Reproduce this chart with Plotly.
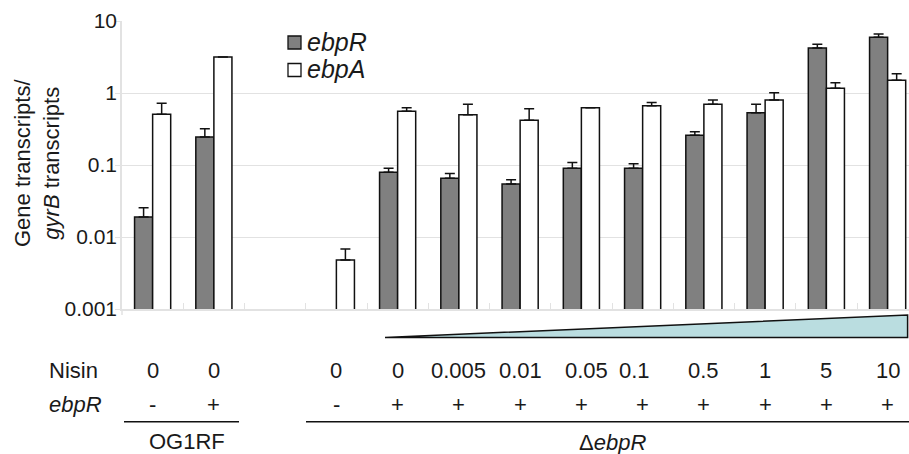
import plotly.graph_objects as go

# ---- data ----
strain = ["OG1RF", "OG1RF", "", "ΔebpR", "ΔebpR", "ΔebpR", "ΔebpR", "ΔebpR",
          "ΔebpR", "ΔebpR", "ΔebpR", "ΔebpR", "ΔebpR"]
nisin = ["0", "0", "", "0", "0", "0.005", "0.01", "0.05", "0.1", "0.5", "1", "5", "10"]
ebpr_status = ["-", "+", "", "-", "+", "+", "+", "+", "+", "+", "+", "+", "+"]

ebpR_vals = [0.019, 0.245, None, None, 0.079, 0.0653, 0.0544, 0.090, 0.090, 0.258, 0.533, 4.22, 5.93]
ebpR_err = [0.0065, 0.075, None, None, 0.011, 0.011, 0.008, 0.018, 0.014, 0.032, 0.164, 0.53, 0.66]
ebpA_vals = [0.506, 3.16, None, 0.0048, 0.557, 0.50, 0.418, 0.625, 0.667, 0.697, 0.80, 1.16, 1.50]
ebpA_err = [0.214, 0.0, None, 0.002, 0.068, 0.20, 0.187, 0.0, 0.073, 0.103, 0.21, 0.23, 0.35]

series_names = ["ebpR", "ebpA"]
series_colors = ["#808080", "#ffffff"]

y_tickvals = [0.001, 0.01, 0.1, 1, 10]
y_ticktext = ["0.001", "0.01", "0.1", "1", "10"]

# ---- styling ----
FONT = "Liberation Sans, Arial, sans-serif"
TXT = "#1a1a1a"
EDGE = "#111111"
GRID = "#e2e2e2"
x_pos = list(range(len(nisin)))

fig = go.Figure()
for name, color, vals, err in zip(series_names, series_colors,
                                  [ebpR_vals, ebpA_vals], [ebpR_err, ebpA_err]):
    fig.add_trace(go.Bar(
        x=x_pos, y=vals, name=name, showlegend=False,
        marker=dict(color=color, line=dict(color=EDGE, width=1.5)),
        error_y=dict(type="data", symmetric=False, array=err,
                     arrayminus=[0] * len(err), color=EDGE, thickness=1.5, width=5),
    ))

W, H = 909, 454
L, R, T, B = 122, 0, 21, 145
PW, PH = W - L - R, H - T - B


def py(pix):  # pixel y -> paper y
    return (H - B - pix) / PH


def px(pix):  # pixel x -> paper x
    return (pix - L) / PW


annotations = []
shapes = []

# y-axis title (two lines)
annotations.append(dict(
    text="Gene transcripts/<br><i>gyrB</i> transcripts", xref="paper", yref="paper",
    x=px(37), y=py(163), xanchor="center", yanchor="middle", textangle=-90,
    showarrow=False, font=dict(family=FONT, size=22, color=TXT)))

# legend (drawn manually to match the reference's compact layout)
for k, (name, color) in enumerate(zip(series_names, series_colors)):
    cy = 42.5 + 27.5 * k
    shapes.append(dict(type="rect", xref="paper", yref="paper",
                       x0=px(288), x1=px(301), y0=py(cy - 6.5), y1=py(cy + 6.5),
                       fillcolor=color, line=dict(color=EDGE, width=1.3)))
    annotations.append(dict(text=f"<i>{name}</i>", xref="paper", yref="paper",
                            x=px(305), y=py(cy - 1), xanchor="left", yanchor="middle",
                            showarrow=False, font=dict(family=FONT, size=25, color=TXT)))

# row labels
annotations.append(dict(text="Nisin", xref="paper", yref="paper", x=px(73), y=py(370),
                        xanchor="center", yanchor="middle", showarrow=False,
                        font=dict(family=FONT, size=22, color=TXT)))
annotations.append(dict(text="<i>ebpR</i>", xref="paper", yref="paper", x=px(75), y=py(404),
                        xanchor="center", yanchor="middle", showarrow=False,
                        font=dict(family=FONT, size=22, color=TXT)))

nisin_xshift = {7: 5, 8: -8}
for i, (n, s) in enumerate(zip(nisin, ebpr_status)):
    if n:
        annotations.append(dict(text=n, xref="x", yref="paper", x=i, y=py(370),
                                xanchor="center", yanchor="middle", showarrow=False,
                                xshift=nisin_xshift.get(i, 0),
                                font=dict(family=FONT, size=22, color=TXT)))
    if s:
        annotations.append(dict(text=s, xref="x", yref="paper", x=i, y=py(404),
                                xanchor="center", yanchor="middle", showarrow=False,
                                font=dict(family=FONT, size=22, color=TXT)))

# strain group labels
annotations.append(dict(text="OG1RF", xref="paper", yref="paper", x=px(187), y=py(441),
                        xanchor="center", yanchor="middle", showarrow=False,
                        font=dict(family=FONT, size=22, color=TXT)))
annotations.append(dict(text="Δ<i>ebpR</i>", xref="paper", yref="paper", x=px(612), y=py(442),
                        xanchor="center", yanchor="middle", showarrow=False,
                        font=dict(family=FONT, size=22, color=TXT)))

shapes += [
    # group underlines
    dict(type="line", xref="paper", yref="paper", x0=px(124), x1=px(239),
         y0=py(421.7), y1=py(421.7), line=dict(color=EDGE, width=1.5)),
    dict(type="line", xref="paper", yref="paper", x0=px(306), x1=px(912),
         y0=py(421.7), y1=py(421.7), line=dict(color=EDGE, width=1.5)),
    # nisin gradient triangle
    dict(type="path", xref="paper", yref="paper",
         path=f"M {px(385)},{py(337.5)} L {px(907.6)},{py(315)} L {px(907.6)},{py(337.5)} Z",
         fillcolor="#badde0", line=dict(color=EDGE, width=1.5)),
    # y-axis line extends a little below the x axis
    dict(type="line", xref="paper", yref="paper", x0=0, x1=0, y0=0, y1=py(315),
         line=dict(color=GRID, width=1.5)),
]

fig.update_layout(
    width=W, height=H,
    margin=dict(l=L, r=R, t=T, b=B, pad=0),
    paper_bgcolor="white", plot_bgcolor="white",
    barmode="group", bargap=0.41, bargroupgap=0,
    font=dict(family=FONT, color=TXT),
    showlegend=False,
    annotations=annotations,
    shapes=shapes,
)
fig.update_yaxes(type="log", range=[-3, 1], tickvals=y_tickvals, ticktext=y_ticktext,
                 showgrid=True, gridcolor=GRID, gridwidth=1.2,
                 showline=True, linecolor=GRID, linewidth=1.5,
                 ticks="outside", ticklen=5, tickcolor=GRID, tickwidth=1.2,
                 ticklabelstandoff=-6,
                 tickfont=dict(family=FONT, size=21, color=TXT), zeroline=False)
fig.update_xaxes(range=[-0.5, -0.5 + PW / 61.25], tickvals=[i - 0.5 for i in range(len(nisin) + 1)],
                 showticklabels=False, ticks="inside", ticklen=6, tickcolor=GRID, tickwidth=1.2,
                 showgrid=False, showline=True, linecolor=GRID, linewidth=1.5,
                 zeroline=False, layer="below traces")

fig.write_html("out.html", config={"displayModeBar": False})

# remove the browser's default page margin so the figure sits at the window's corner
with open("out.html", encoding="utf-8") as f:
    html = f.read()
html = html.replace("<head>", "<head><style>html,body{margin:0;padding:0;overflow:hidden;}</style>", 1)
with open("out.html", "w", encoding="utf-8") as f:
    f.write(html)
